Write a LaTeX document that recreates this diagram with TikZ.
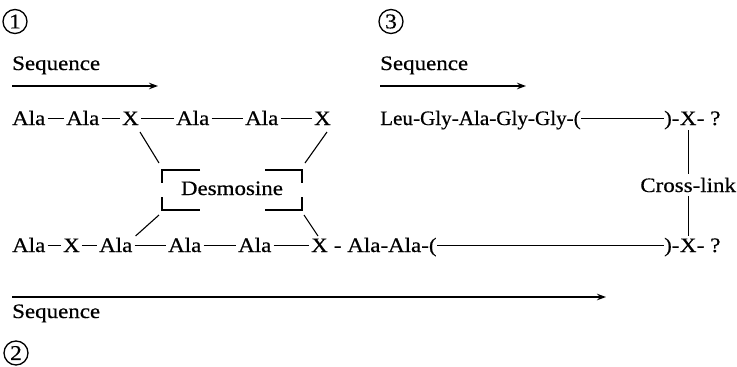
\documentclass[tikz,border=0pt]{standalone}
\usepackage{fontspec}
\setmainfont{Liberation Serif}[FakeStretch=1.12,FakeBold=0.5]
\newfontfamily\narrowfont{Liberation Serif}[FakeStretch=1.03,FakeBold=0.5]
\usetikzlibrary{arrows.meta}
\begin{document}
\begin{tikzpicture}[x=1pt,y=-1pt,
  txt/.style={anchor=base west,inner sep=0pt,font=\fontsize{20.5}{22}\selectfont},
  ntxt/.style={anchor=base west,inner sep=0pt,font=\narrowfont\fontsize{20.5}{22}\selectfont},
  circ/.style={draw,circle,line width=1.3pt,minimum size=24pt,inner sep=0pt,font=\fontsize{21}{21}\selectfont},
  bond/.style={line width=1.4pt,shorten <=2pt,shorten >=2pt},
  link/.style={line width=1.1pt},
  seqarrow/.style={line width=1.2pt,-{Stealth[length=9pt,width=6.5pt]}}]
\useasboundingbox (0,0) rectangle (737,367);
% labels 1, 3, 2
\node[circ] (c1) at (15,21.5) {1};
\node[circ] (c3) at (391,21.5) {3};
\node[circ] (c2) at (16,353) {2};
\node[txt] (s1) at (12,70) {Sequence};
\node[txt] (s3) at (380,70) {Sequence};
\node[txt] (s2) at (12,318) {Sequence};
\coordinate (a1s) at (12,86); \coordinate (a1e) at (158,86);
\coordinate (a3s) at (380,86); \coordinate (a3e) at (526,86);
\coordinate (a2s) at (12,297); \coordinate (a2e) at (606,297);
\draw[seqarrow] (a1s) -- (a1e);
\draw[seqarrow] (a3s) -- (a3e);
\draw[seqarrow] (a2s) -- (a2e);
% row 1
\node[txt] (r1a) at (12,125) {Ala};
\node[txt] (r1b) at (66,125) {Ala};
\node[txt] (r1c) at (122,125) {X};
\node[txt] (r1d) at (176,125) {Ala};
\node[txt] (r1e) at (245,125) {Ala};
\node[txt] (r1f) at (314,125) {X};
\foreach \p/\q in {r1a/r1b,r1b/r1c,r1c/r1d,r1d/r1e,r1e/r1f}
  \draw[bond] ([yshift=6.5pt]\p.base east) -- ([yshift=6.5pt]\q.base west);
% row 2
\node[txt] (r2a) at (12,252) {Ala};
\node[txt] (r2b) at (63,252) {X};
\node[txt] (r2c) at (99,252) {Ala};
\node[txt] (r2d) at (168,252) {Ala};
\node[txt] (r2e) at (238,252) {Ala};
\node[txt] (r2f) at (311,252) {X};
\foreach \p/\q in {r2a/r2b,r2b/r2c,r2c/r2d,r2d/r2e,r2e/r2f}
  \draw[bond] ([yshift=6.5pt]\p.base east) -- ([yshift=6.5pt]\q.base west);
\node[txt] (r2g) at (r2f.base east) {\ - Ala-Ala-(};
\node[txt] (r2h) at (664,252) {)-};
\node[txt] (r2x) at (r2h.base east) {X};
\node[txt] (r2q) at (r2x.base east) {- ?};
\draw[bond,shorten <=0.5pt,shorten >=0.5pt] ([yshift=6.5pt]r2g.base east) -- ([yshift=6.5pt]r2h.base west);
% row 3 (top right)
\node[ntxt] (r3a) at (380,125) {Leu-Gly-Ala-Gly-Gly-(};
\node[txt] (r3b) at (664,125) {)-};
\node[txt] (r3x) at (r3b.base east) {X};
\node[txt] (r3q) at (r3x.base east) {- ?};
\draw[bond,shorten <=0.5pt,shorten >=0.5pt] ([yshift=6.5pt]r3a.base east) -- ([yshift=6.5pt]r3b.base west);
% cross-link
\node[txt,anchor=base] (cl) at (r3x.base |- 0,192) {Cross-link};
\draw[link] ([yshift=-5pt]r3x.base) -- ([yshift=4pt]cl.north);
\draw[link] ([yshift=-4pt]cl.south) -- ([yshift=16pt]r2x.base);
% desmosine
\node[txt,anchor=base] (des) at (232,195) {Desmosine};
\draw[link] (200,170) -- (162,170) -- (162,183);
\draw[link] (162,197) -- (162,210) -- (200,210);
\draw[link] (265,170) -- (302,170) -- (302,183);
\draw[link] (302,197) -- (302,210) -- (265,210);
\coordinate (d1) at (159,163); \coordinate (d2) at (305,163);
\coordinate (d3) at (159,215); \coordinate (d4) at (304,215);
\draw[link] ([shift={(1pt,-7pt)}]r1c.base east) -- (d1);
\draw[link] ([shift={(-4pt,-7pt)}]r1f.base east) -- (d2);
\draw[link] (d3) -- ([shift={(3pt,16pt)}]r2c.base east);
\draw[link] (d4) -- ([shift={(7pt,16pt)}]r2f.base west);
\end{tikzpicture}
\end{document}
